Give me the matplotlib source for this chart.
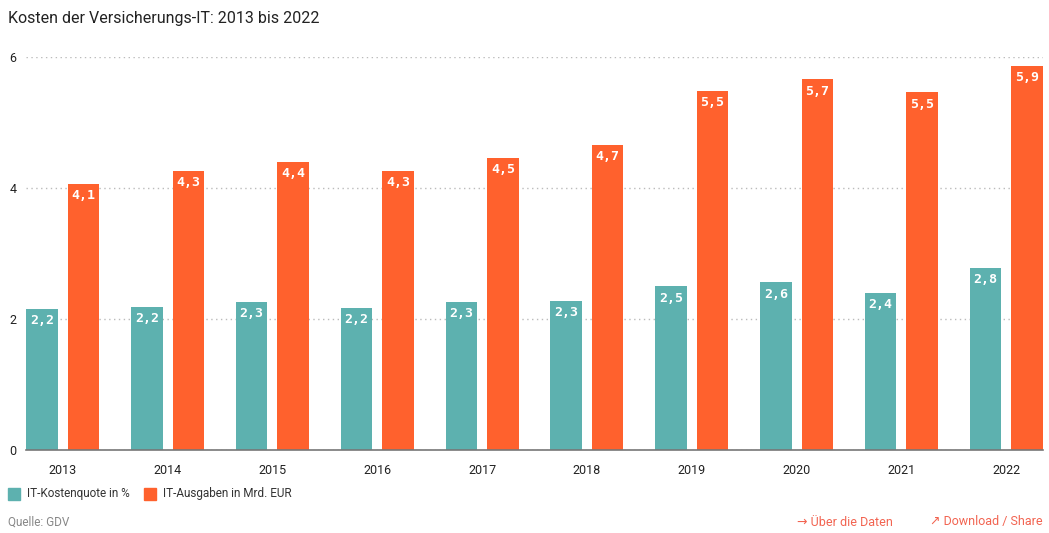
import matplotlib
matplotlib.use("Agg")
import matplotlib.pyplot as plt
import numpy as np

years = ["2013", "2014", "2015", "2016", "2017", "2018", "2019", "2020", "2021", "2022"]
kostenquote = [2.16, 2.18, 2.26, 2.17, 2.26, 2.28, 2.50, 2.56, 2.40, 2.78]
ausgaben = [4.06, 4.26, 4.40, 4.26, 4.46, 4.66, 5.48, 5.66, 5.46, 5.87]
yticks = [0, 2, 4, 6]

teal = "#5db1af"
orange = "#ff612d"
link = "#f26451"

plt.rcParams['font.family'] = ['Roboto', 'DejaVu Sans']

fig = plt.figure(figsize=(10.49, 5.33), dpi=100)
ax = fig.add_axes([26 / 1049, 1 - 450 / 533, (1043 - 26) / 1049, (450 - 57) / 533])

x = np.arange(len(years))
off = 0.198
w = 0.30
b1 = ax.bar(x - off, kostenquote, w, color=teal, zorder=3)
b2 = ax.bar(x + off, ausgaben, w, color=orange, zorder=3)

for bars, vals in ((b1, kostenquote), (b2, ausgaben)):
    for r, v in zip(bars, vals):
        ax.text(r.get_x() + r.get_width() / 2, v - 0.18, f"{v:.1f}".replace(".", ","),
                ha="center", va="center", color="white", fontsize=9.5, fontweight="bold",
                family="DejaVu Sans Mono", zorder=4)

ax.set_xlim(-0.35, len(years) - 1 + 0.35)
ax.set_ylim(0, 6)
ax.set_yticks(yticks)
ax.set_yticklabels([str(t) for t in yticks])
ax.set_xticks(x)
ax.set_xticklabels(years)
ax.tick_params(axis="both", length=0, labelsize=9, colors="#222222")
ax.tick_params(axis="y", pad=7)
ax.tick_params(axis="x", pad=10)

ax.yaxis.grid(True, linestyle=(0, (1, 2.5)), color="#bbbbbb", linewidth=1, zorder=0)
for s in ["top", "right", "left"]:
    ax.spines[s].set_visible(False)
ax.spines["bottom"].set_color("#777777")
ax.spines["bottom"].set_linewidth(1.2)
ax.spines["bottom"].set_zorder(5)

fig.text(8 / 1049, 1 - 18 / 533, "Kosten der Versicherungs-IT: 2013 bis 2022",
         fontsize=11.5, color="#222222", va="center", ha="left")

# legend
fig.patches.append(plt.Rectangle((8 / 1049, 1 - 500 / 533), 12 / 1049, 12 / 533,
                                 transform=fig.transFigure, color=teal))
fig.text(27 / 1049, 1 - 494 / 533, "IT-Kostenquote in %", fontsize=8.5, color="#333333",
         va="center", ha="left")
fig.patches.append(plt.Rectangle((144 / 1049, 1 - 500 / 533), 12 / 1049, 12 / 533,
                                 transform=fig.transFigure, color=orange))
fig.text(163 / 1049, 1 - 494 / 533, "IT-Ausgaben in Mrd. EUR", fontsize=8.5, color="#333333",
         va="center", ha="left")

fig.text(8 / 1049, 1 - 522 / 533, "Quelle: GDV", fontsize=8.5, color="#888888",
         va="center", ha="left")
fig.text(893 / 1049, 1 - 522 / 533, "→ Über die Daten", fontsize=9, color=link,
         va="center", ha="right")
fig.text(1043 / 1049, 1 - 522 / 533, "↗ Download / Share", fontsize=9, color=link,
         va="center", ha="right")

fig.savefig("out.png", dpi=100, facecolor="white")
